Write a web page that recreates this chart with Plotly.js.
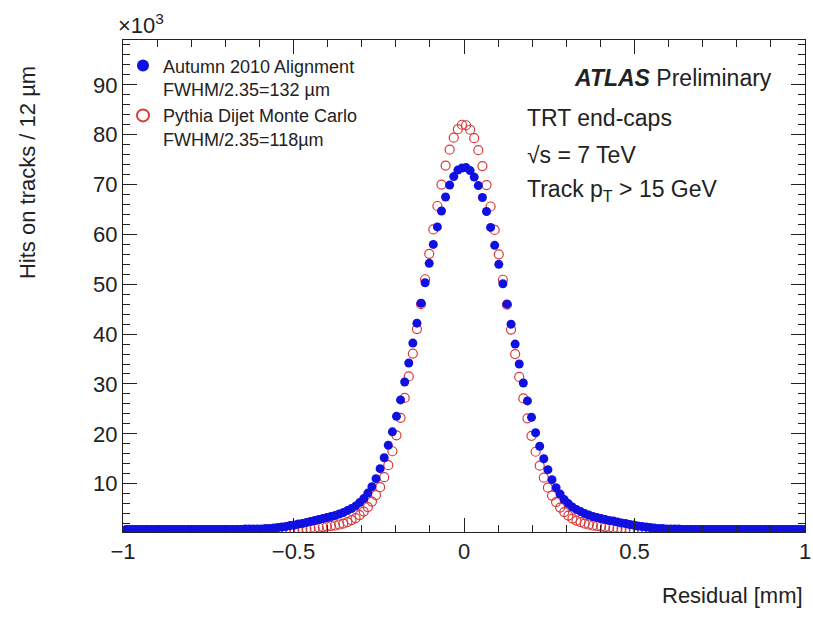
<!DOCTYPE html>
<html>
<head>
<meta charset="utf-8">
<script src="https://cdn.plot.ly/plotly-3.0.1.min.js"></script>
<style>body{margin:0;background:#fff}</style>
</head>
<body>
<div id="plot" style="width:813px;height:619px"></div>
<script>
// bin width 12 um, 167 bins from -1 to 1 mm; values in units of 10^3 hits
var binWidth = 0.012;
// positive half of data (bin centres 0.006, 0.018, ...)
var dataRight = [73.4,72.8,71.5,69.8,67.4,64.6,61.4,57.8,54.0,50.1,46.0,42.0,38.0,34.0,30.2,26.6,23.3,20.2,17.5,15.0,12.8,10.8,9.2,7.9,6.8,6.0,5.3,4.8,4.4,4.0,
  3.7,3.4,3.2,3.0,2.8,2.6,2.5,2.3,2.1,2.0,1.8,1.7,1.5,1.4,1.3,1.2,1.1,1.0,1.0,0.9,0.9,0.9,0.9,0.8,0.8,0.8,0.8,0.8,0.8,0.8,
  0.8,0.8,0.8,0.8,0.8,0.8,0.8,0.8,0.8,0.8,0.8,0.8,0.8,0.8,0.8,0.8,0.8,0.8,0.8,0.8,0.8,0.8,0.8,0.8];
var dataLeft = [73.3,72.9,71.6,69.9,67.5,64.7,61.5,58.0,54.2,50.3,46.2,42.2,38.2,34.2,30.4,26.8,23.5,20.4,17.7,15.2,13.0,11.0,9.4,8.1,7.0,6.2,5.5,5.0,4.6,4.2,
  3.9,3.6,3.4,3.2,3.0,2.8,2.6,2.4,2.2,2.0,1.9,1.7,1.6,1.4,1.3,1.2,1.1,1.0,1.0,0.9,0.9,0.9,0.9,0.9,0.8,0.8,0.8,0.8,0.8,0.8,
  0.8,0.8,0.8,0.8,0.8,0.8,0.8,0.8,0.8,0.8,0.8,0.8,0.8,0.8,0.8,0.8,0.8,0.8,0.8,0.8,0.8,0.8,0.8];
var mcRight = [81.9,81.0,79.3,76.9,73.7,69.9,65.6,60.9,56.0,50.9,45.9,40.9,36.0,31.4,27.1,23.1,19.6,16.4,13.6,11.2,9.2,7.6,6.3,5.2,4.3,3.6,3.0,2.6,2.3,2.0,
  1.8,1.6,1.5,1.4,1.3,1.2,1.1,1.0,1.0,0.9,0.9,0.8,0.8,0.8,0.8,0.7,0.7,0.7,0.7,0.7,0.7,0.7,0.7,0.7,0.7,0.7,0.7,0.7,0.7,0.7,
  0.7,0.7,0.7,0.7,0.7,0.7,0.7,0.7,0.7,0.7,0.7,0.7,0.7,0.7,0.7,0.7,0.7,0.7,0.7,0.7,0.7,0.7,0.7,0.7];
var mcLeft = [82.0,81.1,79.4,77.0,73.8,70.0,65.7,61.0,56.1,51.0,46.0,41.0,36.1,31.5,27.2,23.2,19.7,16.5,13.7,11.3,9.3,7.7,6.4,5.3,4.4,3.7,3.1,2.7,2.3,2.0,
  1.8,1.6,1.5,1.4,1.3,1.2,1.1,1.0,1.0,0.9,0.9,0.8,0.8,0.8,0.8,0.7,0.7,0.7,0.7,0.7,0.7,0.7,0.7,0.7,0.7,0.7,0.7,0.7,0.7,0.7,
  0.7,0.7,0.7,0.7,0.7,0.7,0.7,0.7,0.7,0.7,0.7,0.7,0.7,0.7,0.7,0.7,0.7,0.7,0.7,0.7,0.7,0.7,0.7];

function side(left, right) {
  var x = [], y = [];
  for (var i = left.length - 1; i >= 0; i--) { x.push(-(i + 0.5) * binWidth); y.push(left[i]); }
  for (var j = 0; j < right.length; j++) { x.push((j + 0.5) * binWidth); y.push(right[j]); }
  return {x: x, y: y};
}
var d = side(dataLeft, dataRight), m = side(mcLeft, mcRight);

var traces = [
  {x: m.x, y: m.y, mode: 'markers', name: 'Pythia Dijet Monte Carlo<br>FWHM/2.35=118\u00b5m',
   marker: {symbol: 'circle-open', size: 9, color: '#d83a3a', line: {width: 1.2}}},
  {x: d.x, y: d.y, mode: 'markers', name: 'Autumn 2010 Alignment<br>FWHM/2.35=132 \u00b5m',
   marker: {symbol: 'circle', size: 9, color: '#1010e0'}}
];

var fam = 'Liberation Sans, Arial, sans-serif';
var font = {family: fam, size: 22, color: '#222'};
var big = {family: fam, size: 23, color: '#222'};
var layout = {
  width: 813, height: 619,
  margin: {l: 123, r: 8, t: 40, b: 87},
  font: font,
  showlegend: true,
  legend: {x: 0.0, y: 0.985, xanchor: 'left', yanchor: 'top', traceorder: 'reversed', valign: 'top',
           font: {family: fam, size: 18, color: '#222'}, bgcolor: 'rgba(0,0,0,0)', itemsizing: 'constant',
           tracegroupgap: 2},
  xaxis: {range: [-1, 1], tickmode: 'linear', tick0: -1, dtick: 0.5,
          ticks: 'inside', ticklen: 14, tickwidth: 1, tickcolor: '#222', showline: true, linecolor: '#222', mirror: 'ticks',
          showgrid: false, zeroline: false, minor: {dtick: 0.1, ticks: 'inside', ticklen: 7, tickcolor: '#222'},
          tickfont: font},
  yaxis: {range: [0.3, 99], tickmode: 'linear', tick0: 0, dtick: 10,
          ticks: 'inside', ticklen: 14, tickwidth: 1, tickcolor: '#222', showline: true, linecolor: '#222', mirror: 'ticks',
          showgrid: false, zeroline: false, minor: {dtick: 2, ticks: 'inside', ticklen: 7, tickcolor: '#222'},
          tickfont: font},
  annotations: [
    {xref: 'paper', yref: 'paper', x: 1, y: -0.1, xanchor: 'right', yanchor: 'top', showarrow: false,
     text: 'Residual [mm]', font: font},
    {xref: 'paper', yref: 'paper', x: -0.139, y: 0.73, xanchor: 'center', yanchor: 'middle', showarrow: false,
     textangle: -90, text: 'Hits on tracks / 12 \u00b5m', font: font},
    {xref: 'paper', yref: 'paper', x: -0.01, y: 1.0, xanchor: 'left', yanchor: 'bottom', showarrow: false,
     text: '\u00d710<sup>3</sup>', font: font},
    {xref: 'paper', yref: 'paper', x: 0.955, y: 0.923, xanchor: 'right', yanchor: 'middle', showarrow: false,
     text: '<b><i>ATLAS</i></b> Preliminary', font: big},
    {xref: 'paper', yref: 'paper', x: 0.59, y: 0.841, xanchor: 'left', yanchor: 'middle', showarrow: false,
     text: 'TRT end-caps', font: big},
    {xref: 'paper', yref: 'paper', x: 0.59, y: 0.766, xanchor: 'left', yanchor: 'middle', showarrow: false,
     text: '\u221as = 7 TeV', font: big},
    {xref: 'paper', yref: 'paper', x: 0.59, y: 0.695, xanchor: 'left', yanchor: 'middle', showarrow: false,
     text: 'Track p<sub>T</sub> > 15 GeV', font: big}
  ]
};
Plotly.newPlot('plot', traces, layout, {displayModeBar: false});
</script>
</body>
</html>
